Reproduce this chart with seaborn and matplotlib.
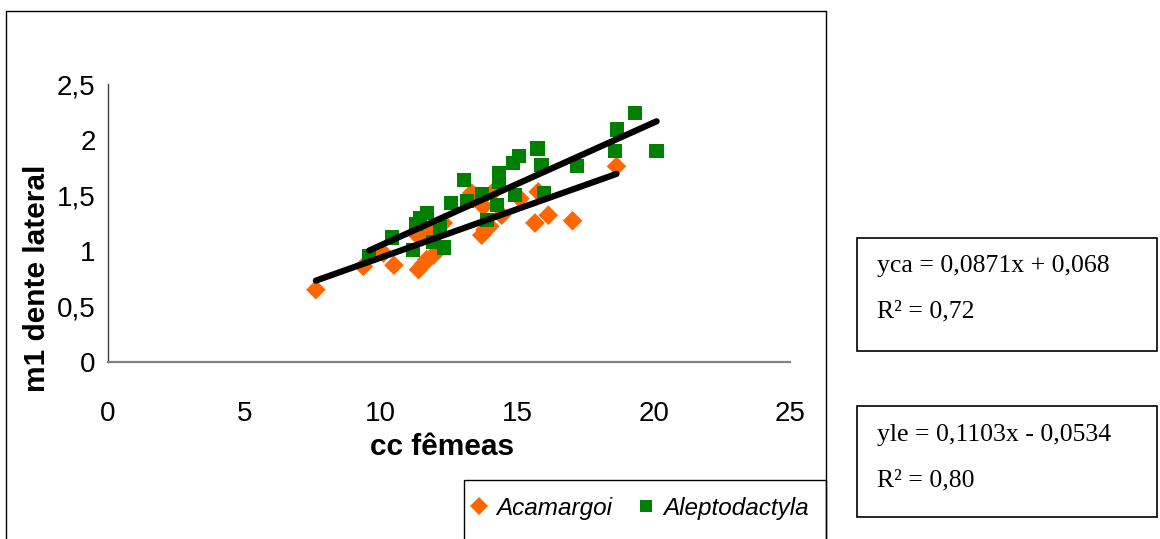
import matplotlib
matplotlib.use("Agg")
import matplotlib.pyplot as plt
from matplotlib.lines import Line2D
from matplotlib.patches import Rectangle
import seaborn as sns
import pandas as pd
import numpy as np

# ---- data ----
series_names = ["Acamargoi", "Aleptodactyla"]

camargoi_x = [7.62, 9.36, 10.09, 10.48, 11.38, 11.56, 11.68, 11.93, 11.38, 11.80,
              12.29, 13.33, 13.27, 13.76, 13.70, 13.82, 14.00, 14.12, 14.43, 15.10,
              15.77, 15.65, 16.14, 17.03, 18.64]
camargoi_y = [0.65, 0.86, 0.98, 0.87, 0.83, 0.88, 0.92, 0.96, 1.13, 1.18,
              1.25, 1.52, 1.48, 1.40, 1.14, 1.19, 1.22, 1.53, 1.32, 1.47,
              1.53, 1.25, 1.32, 1.27, 1.76]

lepto_x = [9.57, 10.42, 11.19, 11.44, 11.68, 11.30, 12.17, 11.93, 12.32, 12.57,
           13.05, 13.17, 13.70, 13.88, 14.27, 14.34, 14.34, 14.92, 14.86, 15.08,
           15.74, 15.89, 15.98, 17.20, 18.59, 18.67, 19.32, 20.11]
lepto_y = [0.95, 1.12, 1.01, 1.29, 1.34, 1.24, 1.21, 1.08, 1.03, 1.43,
           1.64, 1.45, 1.51, 1.28, 1.41, 1.70, 1.62, 1.50, 1.79, 1.85,
           1.92, 1.77, 1.52, 1.76, 1.90, 2.09, 2.24, 1.90]

# trendline coefficients shown in the chart
slopes = [0.0871, 0.1103]
intercepts = [0.068, -0.0534]
eq_texts = ["yca = 0,0871x + 0,068", "yle = 0,1103x - 0,0534"]
r2_texts = ["R² = 0,72", "R² = 0,80"]

x_ticks = [0, 5, 10, 15, 20, 25]
x_tick_labels = ["0", "5", "10", "15", "20", "25"]
y_ticks = [0, 0.5, 1, 1.5, 2, 2.5]
y_tick_labels = ["0", "0,5", "1", "1,5", "2", "2,5"]

x_title = "cc fêmeas"
y_title = "m1 dente lateral"

colors = {"Acamargoi": "#FF6600", "Aleptodactyla": "#008000"}

# ---- figure ----
sns.set_theme(style="white")
plt.rcParams["font.family"] = ["Liberation Sans", "DejaVu Sans"]
plt.rcParams["text.color"] = "black"
plt.rcParams["axes.labelcolor"] = "black"
plt.rcParams["xtick.color"] = "black"
plt.rcParams["ytick.color"] = "black"

W, H = 1160, 539
fig = plt.figure(figsize=(W / 100, H / 100), dpi=100)
fig.patch.set_facecolor("white")

def fx(px):
    return px / W

def fy(py):
    return 1 - py / H

ax = fig.add_axes([fx(108), fy(362), fx(790) - fx(108), fy(84) - fy(362)])
ax.set_facecolor("none")

df_c = pd.DataFrame({"cc": camargoi_x, "m1": camargoi_y, "especie": series_names[0]})
df_l = pd.DataFrame({"cc": lepto_x, "m1": lepto_y, "especie": series_names[1]})

sns.scatterplot(data=df_c, x="cc", y="m1", marker="D", s=100,
                color=colors["Acamargoi"], edgecolor="none", linewidth=0,
                ax=ax, legend=False, zorder=3)
sns.scatterplot(data=df_l, x="cc", y="m1", marker="s", s=105,
                color=colors["Aleptodactyla"], edgecolor="none", linewidth=0,
                ax=ax, legend=False, zorder=4)

for xs, m, b in [(camargoi_x, slopes[0], intercepts[0]), (lepto_x, slopes[1], intercepts[1])]:
    lx = np.array([min(xs), max(xs)])
    line_df = pd.DataFrame({"x": lx, "y": m * lx + b})
    sns.lineplot(data=line_df, x="x", y="y", color="black", linewidth=4.5,
                 ax=ax, zorder=5, solid_capstyle="round")

ax.set_xlim(0, 25)
ax.set_ylim(0, 2.5)
ax.set_xticks(x_ticks)
ax.set_xticklabels(x_tick_labels)
ax.set_yticks(y_ticks)
ax.set_yticklabels(y_tick_labels)
ax.tick_params(axis="both", labelsize=20, colors="black", direction="out",
               length=5, width=1)
ax.tick_params(axis="x", pad=23)
ax.tick_params(axis="y", pad=4)
ax.grid(False)

for s in ["top", "right"]:
    ax.spines[s].set_visible(False)
ax.spines["left"].set_color("#404040")
ax.spines["left"].set_linewidth(1.0)
ax.spines["bottom"].set_color("#808080")
ax.spines["bottom"].set_linewidth(1.6)

ax.set_xlabel(x_title, fontsize=21.5, fontweight="bold", color="black")
ax.set_ylabel(y_title, fontsize=21.5, fontweight="bold", color="black")
ax.xaxis.label.set_va("center")
ax.yaxis.label.set_va("center")
ax.xaxis.set_label_coords((442 - 108) / 682, (362 - 447) / 278)
ax.yaxis.set_label_coords((37 - 108) / 682, (362 - 278) / 278)

# ---- outer chart frame ----
frame_l, frame_t, frame_r = 6, 11, 826
fig.add_artist(Line2D([fx(frame_l), fx(frame_l)], [fy(frame_t), -0.05],
                      transform=fig.transFigure, color="black", lw=1.0))
fig.add_artist(Line2D([fx(frame_l), fx(frame_r)], [fy(frame_t), fy(frame_t)],
                      transform=fig.transFigure, color="black", lw=1.0))
fig.add_artist(Line2D([fx(frame_r), fx(frame_r)], [fy(frame_t), -0.05],
                      transform=fig.transFigure, color="black", lw=1.0))

# ---- legend box ----
fig.add_artist(Rectangle((fx(464), -0.05), fx(frame_r) - fx(464), fy(480) + 0.05,
                         transform=fig.transFigure, fill=False, edgecolor="black", lw=1.0))
handles = [
    Line2D([], [], marker="D", linestyle="none", color=colors["Acamargoi"],
           markersize=9.5, markeredgewidth=0),
    Line2D([], [], marker="s", linestyle="none", color=colors["Aleptodactyla"],
           markersize=8.5, markeredgewidth=0),
]
fig.legend(handles, series_names, loc="center left",
           bbox_to_anchor=(fx(469), fy(508)), ncol=2, frameon=False,
           handlelength=0.8, handletextpad=0.3, columnspacing=1.0,
           prop={"family": ["Liberation Sans"], "style": "italic", "size": 17.5},
           borderaxespad=0, borderpad=0)

# ---- equation boxes ----
boxes = [(238, 351, 266, 311), (406, 517, 435, 480)]
for (top, bot, l1, l2), eq, r2 in zip(boxes, eq_texts, r2_texts):
    fig.add_artist(Rectangle((fx(857), fy(bot)), fx(1157) - fx(857), fy(top) - fy(bot),
                             transform=fig.transFigure, fill=False,
                             edgecolor="black", lw=1.2))
    fig.text(fx(877), fy(l1), eq, ha="left", va="center",
             family=["Liberation Serif", "DejaVu Serif"], fontsize=18.5)
    fig.text(fx(877), fy(l2), r2, ha="left", va="center",
             family=["Liberation Serif", "DejaVu Serif"], fontsize=18.5)

fig.savefig("out.png", dpi=100, facecolor="white")
